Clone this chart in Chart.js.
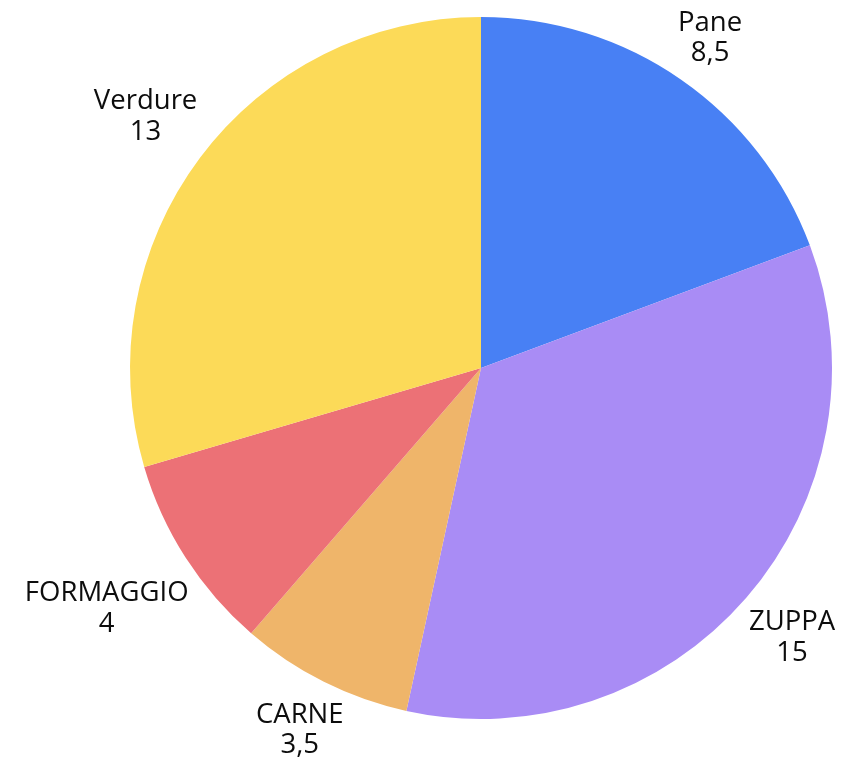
<!DOCTYPE html>
<html>
<head>
<meta charset="utf-8">
<script src="https://cdn.jsdelivr.net/npm/chart.js@4"></script>
<style>
  html, body { margin: 0; padding: 0; background: #fff; }
  #wrap { width: 846px; height: 770px; }
</style>
</head>
<body>
<div id="wrap"><canvas id="torta"></canvas></div>
<script>
var categorie = ['Pane', 'ZUPPA', 'CARNE', 'FORMAGGIO', 'Verdure'];
var valori = [8.5, 15, 3.5, 4, 13];
var colori = ['#4880f4', '#a98cf5', '#efb56a', '#ec7176', '#fcda58'];

function formatta(v) {
    return String(v).replace('.', ',');
}

// etichette fuori dalla torta: nome sopra, valore sotto
var etichette = {
    id: 'etichette',
    afterDatasetsDraw: function(chart) {
        var ctx = chart.ctx;
        var meta = chart.getDatasetMeta(0);
        ctx.save();
        ctx.font = '27.5px "Open Sans"';
        ctx.fillStyle = '#0d0d0d';
        ctx.textAlign = 'center';
        ctx.textBaseline = 'middle';
        var riga = 30.5;
        meta.data.forEach(function(arc, i) {
            var p = arc.getProps(['x', 'y', 'startAngle', 'endAngle', 'outerRadius']);
            var a = (p.startAngle + p.endAngle) / 2;
            var s = Math.cos(a), c = Math.sin(a);
            var w = Math.max(ctx.measureText(categorie[i]).width, ctx.measureText(formatta(valori[i])).width) / 2;
            var h = 26;
            var d = p.outerRadius + 11 + w * Math.abs(s) + h * Math.abs(c);
            var x = p.x + d * s;
            var y = p.y + d * c;
            ctx.fillText(categorie[i], x, y - riga / 2);
            ctx.fillText(formatta(valori[i]), x, y + riga / 2);
        });
        ctx.restore();
    }
};

new Chart(document.getElementById('torta').getContext('2d'), {
    type: 'pie',
    data: {
        labels: categorie,
        datasets: [{
            data: valori,
            backgroundColor: colori,
            borderWidth: 0
        }]
    },
    options: {
        responsive: true,
        maintainAspectRatio: false,
        animation: false,
        layout: {
            padding: { left: 130, right: 14, top: 17, bottom: 51 }
        },
        plugins: {
            legend: { display: false },
            tooltip: { enabled: false }
        }
    },
    plugins: [etichette]
});
</script>
</body>
</html>
